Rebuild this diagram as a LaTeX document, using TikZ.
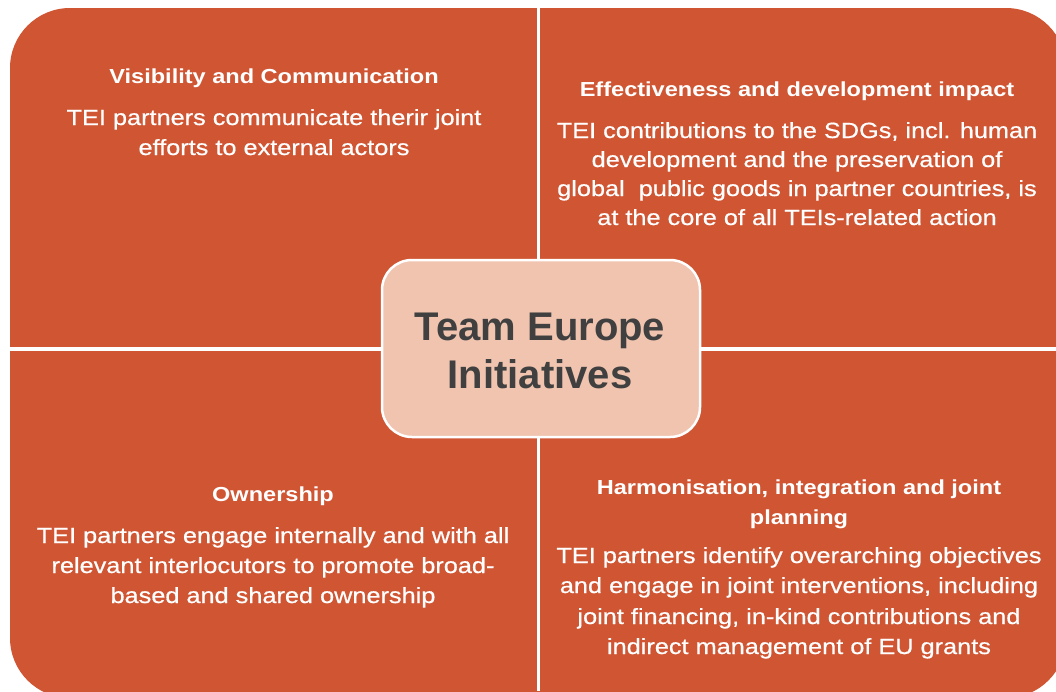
\documentclass[tikz,border=0pt]{standalone}
\usepackage{fontspec}
\setmainfont{Liberation Sans}
\newfontfamily\wide{Liberation Sans}[FakeStretch=1.16]
\newfontfamily\widemed{Liberation Sans}[FakeStretch=1.15,FakeBold=0.6]
\definecolor{tei}{HTML}{CF5533}
\definecolor{peach}{HTML}{F0C4AF}
\definecolor{dark}{HTML}{404040}
\begin{document}
\begin{tikzpicture}[x=1pt,y=-1pt,
  body/.style={font=\widemed\fontsize{22}{26}\selectfont, text=white, anchor=base, inner sep=0pt},
  ttl/.style={font=\wide\bfseries\fontsize{20.3}{24}\selectfont, text=white, anchor=base, inner sep=0pt},
  centre/.style={font=\bfseries\fontsize{40}{48}\selectfont, text=dark, anchor=base, inner sep=0pt},
  divider/.style={white, line width=3.5pt},
  hub/.style={fill=peach, draw=white, line width=2.5pt, rounded corners=30pt}]
\useasboundingbox (0,0) rectangle (1056,691);
\begin{scope}
\clip (0,0) rectangle (1056,691);
\fill[tei, rounded corners=60pt] (10,8) rectangle (1066,698);
\coordinate (vt) at (538.5,0);
\coordinate (vb) at (538.5,691);
\coordinate (hl) at (0,349);
\coordinate (hr) at (1056,349);
\draw[divider] (vt) -- (vb);
\draw[divider] (hl) -- (hr);
\end{scope}
\draw[hub] (382,260) rectangle (700,437);
\node[centre] (c1) at (540,340) {Team Europe};
\node[centre] (c2) at (540,388) {Initiatives};
% top left
\node[ttl] (tlt) at (274,83) {Visibility and Communication};
\node[body] (tl1) at (274,125) {TEI partners communicate therir joint};
\node[body] (tl2) at (274,155) {efforts to external actors};
% top right
\node[ttl] (trt) at (797,96) {Effectiveness and development impact};
\node[body] (tr1) at (797,138) {TEI contributions to the SDGs, incl. human};
\node[body] (tr2) at (797,167) {development and the preservation of};
\node[body] (tr3) at (797,196) {global\ \ public goods in partner countries, is};
\node[body] (tr4) at (797,225) {at the core of all TEIs-related action};
% bottom left
\node[ttl] (blt) at (273,501) {Ownership};
\node[body] (bl1) at (273,543) {TEI partners engage internally and with all};
\node[body] (bl2) at (273,573) {relevant interlocutors to promote broad-};
\node[body] (bl3) at (273,603) {based and shared ownership};
% bottom right
\node[ttl] (brt1) at (799,494) {Harmonisation, integration and joint};
\node[ttl] (brt2) at (799,524) {planning};
\node[body] (br1) at (799,563) {TEI partners identify overarching objectives};
\node[body] (br2) at (799,593) {and engage in joint interventions, including};
\node[body] (br3) at (799,624) {joint financing, in-kind contributions and};
\node[body] (br4) at (799,654) {indirect management of EU grants};
\end{tikzpicture}
\end{document}
